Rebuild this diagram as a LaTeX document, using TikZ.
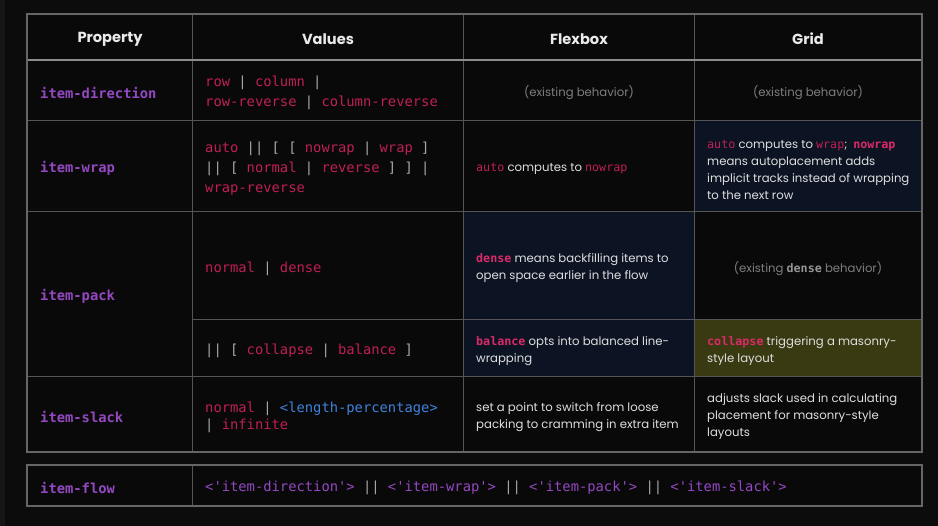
\documentclass[tikz,border=0pt]{standalone}
\usepackage{fontspec}
\setmainfont{Poppins}
\setmonofont{DejaVu Sans Mono}
\usepackage{tikz}
\usetikzlibrary{positioning}
\definecolor{bgdark}{HTML}{0C0C0C}
\definecolor{bgstrip}{HTML}{161616}
\definecolor{cellblack}{HTML}{090909}
\definecolor{cellnavy}{HTML}{0C1424}
\definecolor{cellolive}{HTML}{3A3A12}
\definecolor{rulegrey}{HTML}{555555}
\definecolor{framegrey}{HTML}{666666}
\definecolor{headrule}{HTML}{8C8C8C}
\definecolor{propurple}{HTML}{9448C2}
\definecolor{kwred}{HTML}{C01F55}
\definecolor{kwpink}{HTML}{DB2A68}
\definecolor{pipegrey}{HTML}{A8A8A8}
\definecolor{bluetype}{HTML}{3E82DA}
\definecolor{desctext}{HTML}{DEDEDE}
\definecolor{dimtext}{HTML}{7E7E7E}
\definecolor{dimbold}{HTML}{969696}
\definecolor{headtext}{HTML}{EAEAEA}
\newcommand{\vb}[1]{\textcolor{pipegrey}{#1}}
\newcommand{\kwd}[1]{\textcolor{kwred}{\ttfamily #1}}
\newcommand{\kwb}[1]{\textcolor{kwpink}{\ttfamily\bfseries #1}}
\tikzstyle{head} = [font=\fontsize{14.6}{17}\selectfont\bfseries, text=headtext, inner sep=0pt, yshift=-1pt]
\tikzstyle{prop} = [font=\fontsize{13.8}{20}\selectfont\ttfamily\bfseries, text=propurple, anchor=west, inner sep=0pt, yshift=-1.5pt]
\tikzstyle{vals} = [font=\fontsize{13.8}{20}\selectfont\ttfamily, text=kwred, anchor=west, align=left, inner sep=0pt, yshift=-1.5pt]
\tikzstyle{desc} = [font=\fontsize{11.7}{17}\selectfont, text=desctext, anchor=west, align=left, inner sep=0pt, yshift=-1pt]
\tikzstyle{dim} = [font=\fontsize{11.7}{17}\selectfont, text=dimtext, inner sep=0pt, yshift=-1pt]
\tikzstyle{gridline} = [draw=rulegrey, line width=1pt]
\begin{document}
\begin{tikzpicture}[x=1pt, y=-1pt]
  % background and cells
  \fill[bgdark] (0,0) rectangle (938,526);
  \fill[bgstrip] (0,0) rectangle (5,526);
  \useasboundingbox (0,0) rectangle (938,526);
  \fill[cellblack] (27,14) rectangle (922,452);
  \fill[cellblack] (27,465) rectangle (922,506);
  \fill[cellnavy] (694,121) rectangle (922,212);
  \fill[cellnavy] (463,212) rectangle (694,377);
  \fill[cellolive] (694,320) rectangle (922,377);

  % rules
  \foreach \x in {192,463,694}
    \path[gridline] (\x,14) -- (\x,452);
  \foreach \y in {121,212,377}
    \path[gridline] (27,\y) -- (922,\y);
  \path[gridline] (192,320) -- (922,320);
  \path[gridline] (192,465) -- (192,506);
  \draw[headrule, line width=2pt] (27,60) -- (922,60);
  \draw[framegrey, line width=1.3pt] (27,14) rectangle (922,452);
  \draw[framegrey, line width=1.3pt] (27,465) rectangle (922,506);

  % header
  \node [head] (hprop) at (110,38) {Property};
  \node [head] (hval) at (328,38) {Values};
  \node [head] (hflex) at (579,38) {Flexbox};
  \node [head] (hgrid) at (808,38) {Grid};

  % property column
  \node [prop] (pdir) at (40,91) {item-direction};
  \node [prop] (pwrap) at (40,167) {item-wrap};
  \node [prop] (ppack) at (40,295) {item-pack};
  \node [prop] (pslack) at (40,415) {item-slack};
  \node [prop] (pflow) at (40,486) {item-flow};

  % values column
  \node [vals] (vdir) at (205,91) {row \vb{|} column \vb{|}\\row-reverse \vb{|} column-reverse};
  \node [vals] (vwrap) at (205,167) {auto \vb{|| [ [} nowrap \vb{|} wrap \vb{]}\\\vb{|| [} normal \vb{|} reverse \vb{] ] |}\\wrap-reverse};
  \node [vals] (vpacka) at (205,267) {normal \vb{|} dense};
  \node [vals] (vpackb) at (205,349) {\vb{|| [} collapse \vb{|} balance \vb{]}};
  \node [vals, font=\fontsize{13.8}{17}\selectfont\ttfamily] (vslack) at (205,415.5) {normal \vb{|} \textcolor{bluetype}{<length-percentage>}\\\vb{|} infinite};
  \node [vals, text=propurple] (vflow) at (205,486) {<'item-direction'> \vb{||} <'item-wrap'> \vb{||} <'item-pack'> \vb{||} <'item-slack'>};

  % flexbox column
  \node [dim] (fdir) at (579,92) {(existing behavior)};
  \node [desc] (fwrap) at (476,168) {\kwd{auto} computes to \kwd{nowrap}};
  \node [desc] (fpacka) at (476,267.5) {\kwb{dense} means backfilling items to\\open space earlier in the flow};
  \node [desc] (fpackb) at (476,350.5) {\kwb{balance} opts into balanced line-\\wrapping};
  \node [desc] (fslack) at (476,416) {set a point to switch from loose\\packing to cramming in extra item};

  % grid column
  \node [dim] (gdir) at (808,92) {(existing behavior)};
  \node [desc] (gwrap) at (707,168.5) {\kwd{auto} computes to \kwd{wrap};\enspace\kwb{nowrap}\\means autoplacement adds\\implicit tracks instead of wrapping\\to the next row};
  \node [dim] (gpacka) at (808,268) {(existing \textcolor{dimbold}{\ttfamily\bfseries dense} behavior)};
  \node [desc] (gpackb) at (707,350.5) {\kwb{collapse} triggering a masonry-\\style layout};
  \node [desc] (gslack) at (707,416) {adjusts slack used in calculating\\placement for masonry-style\\layouts};
\end{tikzpicture}
\end{document}
